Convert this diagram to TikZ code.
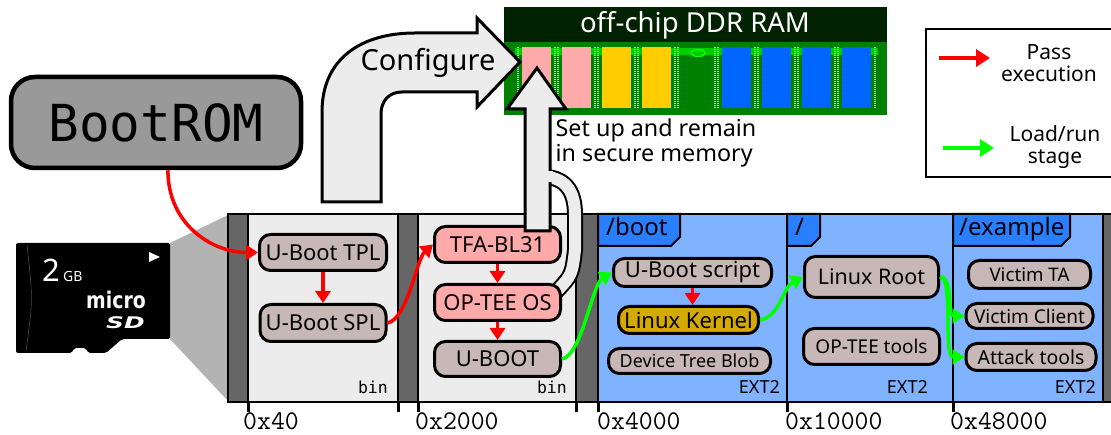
\documentclass[tikz,border=0pt]{standalone}
\usepackage{fontspec}
\usepackage{graphicx}
\setmainfont{Noto Sans}
\newfontfamily\codefont{DejaVu Sans Mono}
\newfontfamily\logofont{DejaVu Sans}
\usetikzlibrary{arrows.meta, positioning}
\definecolor{romgray}{HTML}{999999}
\definecolor{bingray}{HTML}{ECECEC}
\definecolor{padgray}{HTML}{666666}
\definecolor{sdgray}{HTML}{B3B3B3}
\definecolor{partblue}{HTML}{80B3FF}
\definecolor{tabblue}{HTML}{2A7FFF}
\definecolor{imgbrown}{HTML}{C8B7B7}
\definecolor{securepink}{HTML}{FFAAAA}
\definecolor{kernelgold}{HTML}{D4AA00}
\definecolor{dimmgreen}{HTML}{008000}
\definecolor{dimmdark}{HTML}{002200}
\definecolor{chipyellow}{HTML}{FFCC00}
\definecolor{chipblue}{HTML}{0066FF}
\definecolor{passred}{HTML}{FF0000}
\definecolor{loadgreen}{HTML}{00FF00}
\newcommand{\fsz}[1]{\fontsize{#1}{#1}\selectfont}

\begin{document}
\begin{tikzpicture}[
        x=1pt, y=-1pt,
        imgbox/.style={rectangle, rounded corners=11pt, draw=black, line width=3pt, fill=imgbrown, inner sep=0pt, font=\fsz{22}},
        securebox/.style={imgbox, fill=securepink},
        passarrow/.style={-{Triangle[length=12pt,width=15pt]}, line width=3.5pt, passred},
        loadarrow/.style={-{Triangle[length=12pt,width=15pt]}, line width=3.5pt, loadgreen},
        bigarrow/.style={draw=black, line width=3pt, fill=bingray},
        dirtab/.style={draw=black, line width=2pt, fill=tabblue},
        fslabel/.style={font=\fsz{18}, anchor=base east, inner sep=0pt},
        binlabel/.style={font=\codefont\fsz{16.5}, anchor=base east, inner sep=0pt},
        addrlabel/.style={font=\ttfamily\fsz{27}, anchor=base west, inner sep=0pt},
        pin/.style={white!60!gray, line width=2pt, dash pattern=on 1pt off 1pt}
    ]
        \useasboundingbox (0,0) rectangle (1111,435);

        % SD card
        \fill[sdgray] (170,243) -- (228,215) -- (228,401) -- (170,339) -- cycle;
        \fill[black, rounded corners=2pt] (16,243) -- (170,243) -- (170,339) -- (122,339) -- (106,353) -- (88,353) -- (86,348) -- (74,348) -- (72,353) -- (16,353) -- cycle;
        \draw[gray!60!black, line width=0.6pt] (27,245) .. controls (33,300) .. (26,351);
        \fill[white] (149,252) -- (160,257) -- (149,262) -- cycle;
        \node (sdsize) [white, font=\fsz{31}, anchor=base west, inner sep=0pt] at (42,282) {2};
        \node (sdunit) [white, font=\fsz{14}, anchor=base west, inner sep=0pt] at (63,282) {GB};
        \node (sdmicro) [white, font=\logofont\bfseries\fsz{23}, anchor=base west, inner sep=0pt] at (86,309) {\scalebox{0.82}[1]{micro}};
        \node (sdlogo) [white, font=\logofont\bfseries\itshape\fsz{16}, anchor=base west, inner sep=0pt] at (106,329) {\scalebox{1.55}[1]{SD}};

        % Storage layout
        \foreach \a/\b in {228/248, 398/418, 576/598, 1103/1113}
            \fill[padgray] (\a,214) rectangle (\b,402);
        \fill[bingray] (248,214) rectangle (398,402);
        \fill[bingray] (418,214) rectangle (576,402);
        \fill[partblue] (598,214) rectangle (1103,402);
        \foreach \x in {248,398,418,576,598,787,953,1103}
            \draw[line width=2.5pt] (\x,214) -- (\x,402);
        \draw[line width=2.5pt] (228,214) rectangle (1113,402);
        \foreach \x in {248,398,418,576,598,787,953}
            \draw[line width=3pt] (\x,402) -- (\x,412);

        % Partition tabs
        \draw[dirtab] (598,214) -- (680,214) -- (680,237) -- (671,246) -- (598,246) -- cycle;
        \draw[dirtab] (787,214) -- (820,214) -- (820,237) -- (811,246) -- (787,246) -- cycle;
        \draw[dirtab] (953,214) -- (1070,214) -- (1070,237) -- (1061,246) -- (953,246) -- cycle;
        \node (bootdir) [font=\fsz{24}, anchor=base west, inner sep=0pt] at (606,236) {/boot};
        \node (rootdir) [font=\fsz{24}, anchor=base west, inner sep=0pt] at (795,236) {/};
        \node (exdir) [font=\fsz{24}, anchor=base west, inner sep=0pt] at (959,236) {/example};

        \node (bin1) [binlabel] at (388,394) {bin};
        \node (bin2) [binlabel] at (567,394) {bin};
        \node (ext1) [fslabel] at (780,394) {EXT2};
        \node (ext2) [fslabel] at (928,394) {EXT2};
        \node (ext3) [fslabel] at (1096,394) {EXT2};

        \node (off1) [addrlabel] at (243,429) {0x40};
        \node (off2) [addrlabel] at (415,429) {0x2000};
        \node (off3) [addrlabel] at (597,429) {0x4000};
        \node (off4) [addrlabel] at (785,429) {0x10000};
        \node (off5) [addrlabel] at (950,429) {0x48000};

        % DDR module
        \fill[dimmdark] (504,7) rectangle (887,42);
        \fill[dimmgreen] (504,42) rectangle (887,115);
        \draw[loadgreen!60!dimmgreen, line width=7pt] (515,52) -- (878,52);
        \draw[loadgreen, line width=1.5pt] (698,53) ellipse (7 and 3.5);
        \foreach \cx in {522,562,...,842} {
            \draw[pin] (\cx-4,47) -- (\cx-4,108);
            \draw[pin] (\cx+33,47) -- (\cx+33,108);
        }
        \foreach \cx/\chip in {522/securepink, 562/securepink, 602/chipyellow, 642/chipyellow, 722/chipblue, 762/chipblue, 802/chipblue, 842/chipblue}
            \fill[\chip] (\cx,47) rectangle ++(29,61);
        \node (ddr) [white, font=\fsz{27.5}] at (695,25) {off-chip DDR RAM};

        % Band from the secure images
        \draw[line width=2pt, double=bingray, double distance=12pt] (556,292) .. controls (572,275) .. (575,250) -- (575,215) .. controls (575,190) and (565,176.5) .. (540,176.5);

        % Nodes
        \node (tpl) [imgbox, minimum width=127pt, minimum height=36pt] at (323,252.5) {U-Boot TPL};
        \node (spl) [imgbox, minimum width=126pt, minimum height=37pt, below=31pt of tpl] {U-Boot SPL};
        \node (tfa) [securebox, minimum width=126pt, minimum height=36pt] at (497.5,244.5) {TFA-BL31};
        \node (os) [securebox, minimum width=126pt, minimum height=36pt, below=19pt of tfa] {OP-TEE OS};
        \node (uboot) [imgbox, minimum width=126pt, minimum height=35pt, below=18pt of os] {U-BOOT};
        \node (script) [imgbox, minimum width=158pt, minimum height=28pt] at (692.5,272.5) {U-Boot script};
        \node (kernel) [imgbox, fill=kernelgold, minimum width=140pt, minimum height=27pt, below=17pt of script, xshift=-4pt] {Linux Kernel};
        \node (dtb) [imgbox, font=\fsz{18}, minimum width=162pt, minimum height=25pt, below=12pt of kernel, xshift=1pt] {Device Tree Blob};
        \node (root) [imgbox, font=\fsz{21.5}, minimum width=134pt, minimum height=41pt] at (871.5,277) {Linux Root};
        \node (tools) [imgbox, font=\fsz{19}, minimum width=136pt, minimum height=36pt, below=28pt of root] {OP-TEE tools};
        \node (ta) [imgbox, font=\fsz{18.7}, minimum width=122pt, minimum height=28pt] at (1029.5,274.5) {Victim TA};
        \node (client) [imgbox, font=\fsz{19}, minimum width=127pt, minimum height=25pt, below=12pt of ta] {Victim Client};
        \node (attack) [imgbox, font=\fsz{19.4}, minimum width=130pt, minimum height=27pt, below=12pt of client, xshift=1.5pt] {Attack tools};

        % Secure memory arrow
        \draw[bigarrow] (525,231) -- (525,109) -- (507,109) -- (537,68) -- (566,109) -- (550,109) -- (550,231) -- cycle;
        \fill[bingray] (548,171) rectangle (552.5,182);
        \node (secure) [font=\fontsize{23.3}{25}\selectfont, align=left] at (656,143) {Set up and remain\\in secure memory};

        % Configure arrow
        \draw[bigarrow] (322,202) -- (322,112) .. controls (322,58) and (362,33) .. (415,33) -- (477,33) -- (477,18) -- (520,62) -- (477,107) -- (477,92) -- (402,92) .. controls (389,92) and (381,101) .. (381,114) -- (381,202) -- cycle;
        \node (configure) [font=\fsz{29}] at (428,63) {Configure};

        \node (bootrom) [rectangle, rounded corners=24pt, draw, line width=4.5pt, fill=romgray, minimum width=290pt, minimum height=91pt, font=\codefont\fsz{51}] at (156,122.5) {BootROM};

        % Legend
        \draw[line width=2.5pt] (926,29) rectangle (1114,177);
        \coordinate (passfrom) at (939,58);
        \coordinate (passto) at (990,58);
        \coordinate (loadfrom) at (943,148);
        \coordinate (loadto) at (994,148);
        \draw[passarrow, line width=4.5pt, -{Triangle[length=14pt,width=17pt]}] (passfrom) -- (passto);
        \draw[loadarrow, line width=4.5pt, -{Triangle[length=14pt,width=17pt]}] (loadfrom) -- (loadto);
        \node (passtxt) [font=\fontsize{21}{22}\selectfont, align=center] at (1049,63) {Pass\\execution};
        \node (loadtxt) [font=\fontsize{21}{22}\selectfont, align=center] at (1055,147) {Load/run\\stage};

        % Arrows
        \draw[passarrow] (bootrom.-76) .. controls +(0,55) and +(-45,0) .. (tpl.west);
        \draw[passarrow] (tpl) -- (spl);
        \draw[passarrow] (spl.east) .. controls +(20,-4) and +(-16,14) .. (tfa.west);
        \draw[passarrow] (tfa) -- (os);
        \draw[passarrow] (os) -- (uboot);
        \draw[loadarrow] (uboot.east) .. controls +(20,-4) and +(-20,12) .. (script.west);
        \draw[passarrow] (script.south) -- (script.south |- kernel.north);
        \draw[loadarrow] (kernel.east) .. controls +(20,-3) and +(-20,10) .. (root.west);
        \draw[loadarrow] (root.east) .. controls +(14,0) and +(-18,0) .. (client.west);
        \draw[loadarrow] (root.east) .. controls +(14,0) and +(-22,0) .. (attack.west);

    \end{tikzpicture}
\end{document}
